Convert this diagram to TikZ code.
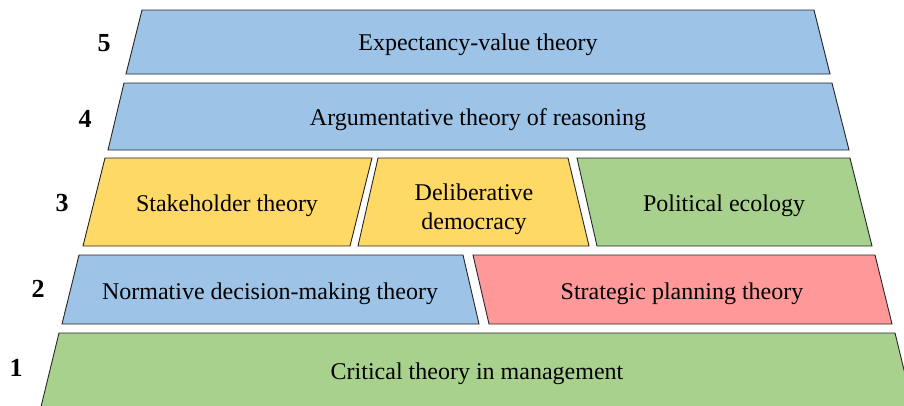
\documentclass[tikz,border=0pt]{standalone}
\usepackage{fontspec}
\setmainfont{Liberation Serif}
\definecolor{cblue}{HTML}{9DC3E6}
\definecolor{cyellow}{HTML}{FFD966}
\definecolor{cgreen}{HTML}{A9D18E}
\definecolor{cred}{HTML}{FF9999}
\begin{document}
\begin{tikzpicture}[x=1pt,y=-1pt,
  tier/.style={draw=black!85,line width=0.9pt,line join=miter},
  lbl/.style={font=\fontsize{24}{28}\selectfont,align=center,inner sep=0pt},
  num/.style={font=\fontsize{26}{30}\selectfont\bfseries,inner sep=0pt}]
\useasboundingbox (0,0) rectangle (904,405);
\clip (0,0) rectangle (904,405);
% level 5
\filldraw[tier,fill=cblue] (142,10) -- (814,10) -- (830,74) -- (126,74) -- cycle;
\node[lbl] (t5) at (478,45) {Expectancy-value theory};
% level 4
\filldraw[tier,fill=cblue] (124,83) -- (832,83) -- (849,150) -- (108,150) -- cycle;
\node[lbl] (t4) at (478,120) {Argumentative theory of reasoning};
% level 3
\filldraw[tier,fill=cyellow] (105,158) -- (372,158) -- (350,246) -- (83,246) -- cycle;
\node[lbl] (t3a) at (227,206) {Stakeholder theory};
\filldraw[tier,fill=cyellow] (378,158) -- (568,158) -- (589,246) -- (358,246) -- cycle;
\node[lbl] (t3b) at (474,209) {Deliberative\\[1pt]democracy};
\filldraw[tier,fill=cgreen] (577,158) -- (850,158) -- (872,246) -- (597,246) -- cycle;
\node[lbl] (t3c) at (724,206) {Political ecology};
% level 2
\filldraw[tier,fill=cblue] (79,255) -- (463,255) -- (479,324) -- (62,324) -- cycle;
\node[lbl] (t2a) at (270,294) {Normative decision-making theory};
\filldraw[tier,fill=cred] (473,255) -- (875,255) -- (892,324) -- (489,324) -- cycle;
\node[lbl] (t2b) at (682,294) {Strategic planning theory};
% level 1
\filldraw[tier,fill=cgreen] (59,333) -- (895,333) -- (915,415) -- (39,415) -- cycle;
\node[lbl] (t1) at (477,374) {Critical theory in management};
% numbers
\node[num] (n5) at (104,43) {5};
\node[num] (n4) at (85,119) {4};
\node[num] (n3) at (62,203) {3};
\node[num] (n2) at (38,289) {2};
\node[num] (n1) at (16,368) {1};
\end{tikzpicture}
\end{document}
